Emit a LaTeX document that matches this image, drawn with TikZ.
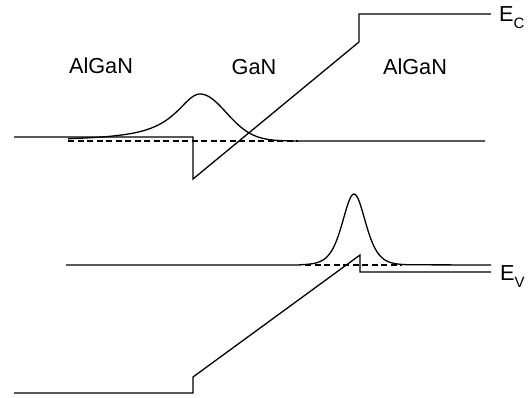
\documentclass[tikz,border=0pt]{standalone}
\usepackage{fontspec}
\setmainfont{Liberation Sans}
\newcommand{\energia}[1]{E\raisebox{-7pt}{\fontsize{15}{15}\selectfont #1}}

\begin{document}
\begin{tikzpicture}[x=1pt, y=-1pt,
    banda/.style={line width=1.3pt},
    nivel/.style={line width=1.1pt, dash pattern=on 6pt off 3.5pt},
    funcao/.style={line width=1.3pt},
    rotulo/.style={font=\fontsize{21.7}{26}\selectfont, inner sep=0pt}]

    \useasboundingbox (0,0) rectangle (532,398);

    % Camadas
    \node[rotulo] (alganEsq) at (101,66) {AlGaN};
    \node[rotulo] (gan) at (254,67) {GaN};
    \node[rotulo] (alganDir) at (415,67) {AlGaN};

    % Banda de condução
    \draw[banda] (14,137) -- (193,137) -- (193,179) -- (359,42) -- (359,14) -- (491,14);
    \node[rotulo, anchor=base west] (ec) at (499,22) {\energia{C}};

    % Banda de valência
    \draw[banda] (14,393) -- (193,393) -- (193,377) -- (360,255) -- (360,272) -- (491,272);
    \node[rotulo, anchor=base west] (ev) at (500,280) {\energia{V}};

    % Níveis (tracejado)
    \draw[nivel] (68,141) -- (298,141);
    \draw[nivel] (305,265) -- (402,265);

    % Função de onda do elétron
    \draw[funcao] plot[smooth, domain=68:200, samples=60]
        (\x, {141-47/(1+((\x-200)/30)*((\x-200)/30))})
        -- plot[smooth, domain=200:320, samples=50]
        (\x, {141-47*exp(-((\x-200)/37)*((\x-200)/37))}) -- (485,141);

    % Função de onda do buraco
    \draw[funcao] (66,265) -- (300,265)
        -- plot[smooth, domain=300:410, samples=90]
        (\x, {265-284/((exp((\x-354)/15.5)+exp(-(\x-354)/15.5))*(exp((\x-354)/15.5)+exp(-(\x-354)/15.5)))})
        -- (491,265);

\end{tikzpicture}
\end{document}
